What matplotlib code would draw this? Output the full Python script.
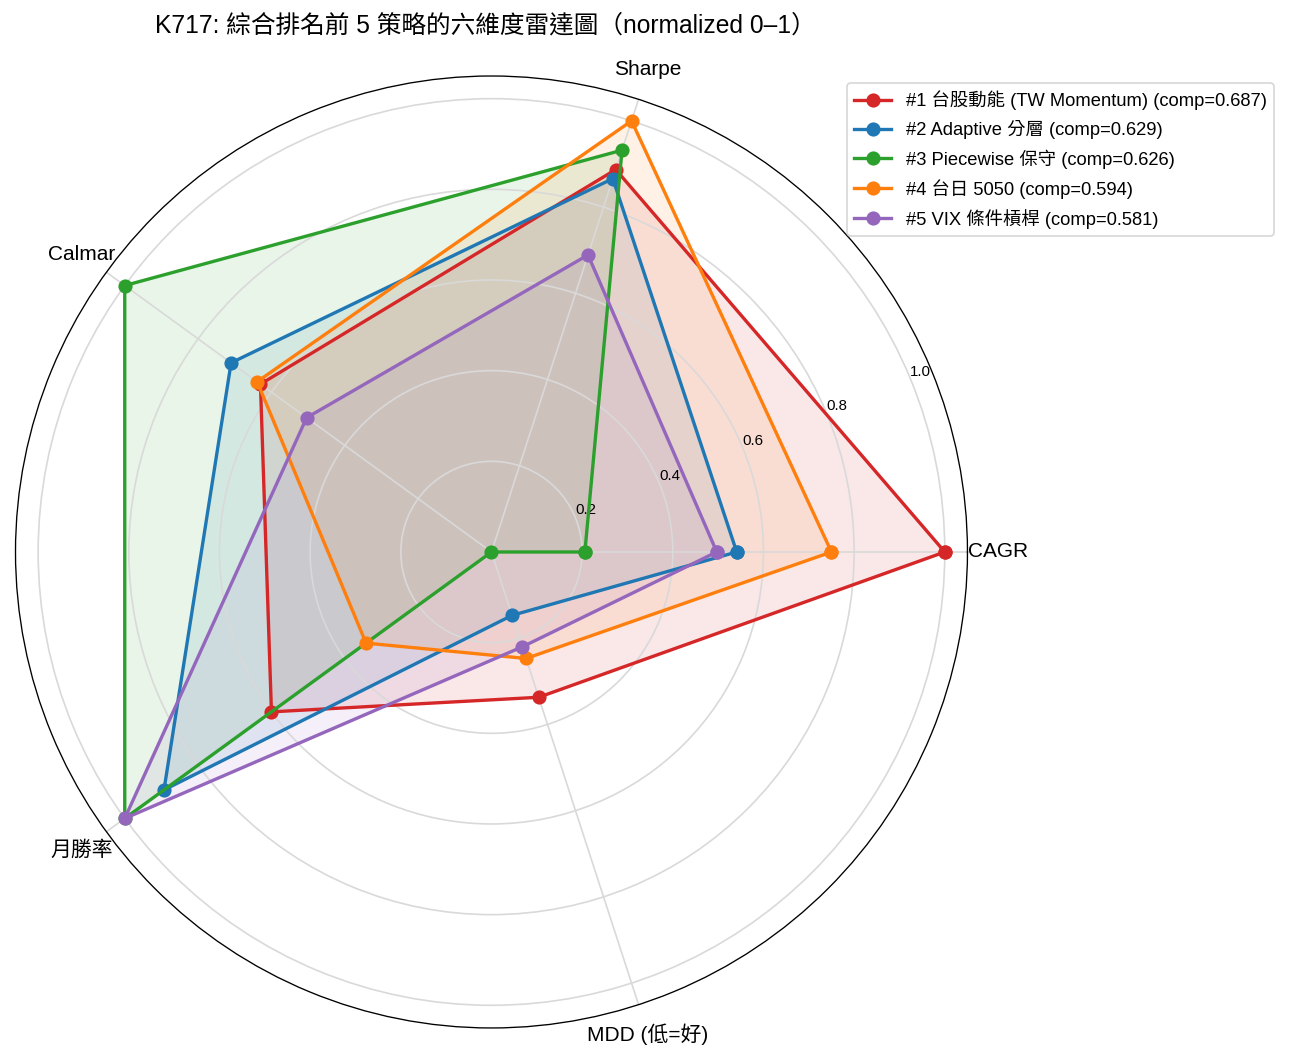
import numpy as np
import matplotlib
matplotlib.use("Agg")
import matplotlib.pyplot as plt

# Latin glyphs from a Helvetica-like face, CJK from Noto
plt.rcParams['font.family'] = ['Liberation Sans', 'Noto Sans CJK TC', 'DejaVu Sans']

# Dimensions (axes) of the radar
dimensions = ["CAGR", "Sharpe", "Calmar", "月勝率", "MDD (低=好)"]

# Normalized scores, one list per strategy
labels = [
    "#1 台股動能 (TW Momentum) (comp=0.687)",
    "#2 Adaptive 分層 (comp=0.629)",
    "#3 Piecewise 保守 (comp=0.626)",
    "#4 台日 5050 (comp=0.594)",
    "#5 VIX 條件槓桿 (comp=0.581)",
]
tw_momentum = [1.0, 0.887, 0.630, 0.600, 0.337]
adaptive = [0.541, 0.866, 0.710, 0.893, 0.147]
piecewise = [0.206, 0.932, 1.0, 1.0, 0.0]
tw_jp_5050 = [0.750, 1.0, 0.639, 0.342, 0.247]
vix_lever = [0.497, 0.689, 0.504, 1.0, 0.220]
colors = ["#d62728", "#1f77b4", "#2ca02c", "#ff7f0e", "#9467bd"]

series = [tw_momentum, adaptive, piecewise, tw_jp_5050, vix_lever]

angles = np.linspace(0, 2 * np.pi, len(dimensions), endpoint=False)
angles_closed = np.concatenate([angles, angles[:1]])

fig = plt.figure(figsize=(10.9, 8.825), dpi=120)
ax = fig.add_axes([0.01185, 0.02927, 0.7278, 0.899], projection="polar")

for vals, lab, col in zip(series, labels, colors):
    v = np.concatenate([vals, vals[:1]])
    ax.plot(angles_closed, v, "o-", color=col, linewidth=2, markersize=7.5, label=lab)
    ax.fill(angles_closed, v, color=col, alpha=0.1)

ax.set_xticks(angles)
ax.set_xticklabels(dimensions, fontsize=12.5)
ax.tick_params(axis="x", pad=8)
ax.set_ylim(0, 1.05)
ax.set_yticks([0.2, 0.4, 0.6, 0.8, 1.0])
ax.set_yticklabels(["0.2", "0.4", "0.6", "0.8", "1.0"], fontsize=9)
ax.grid(color="#d9d9d9", linewidth=1)

fig.text(485 / 1308, 1 - 25 / 1059, "K717: 綜合排名前 5 策略的六維度雷達圖（normalized 0–1）",
         ha="center", va="center", fontsize=14.8)

ax.legend(loc="upper left", bbox_to_anchor=(847 / 1308, 1 - 83 / 1059),
          bbox_transform=fig.transFigure, borderaxespad=0, fontsize=11,
          labelspacing=0.55)

fig.savefig("out.png", dpi=120)
